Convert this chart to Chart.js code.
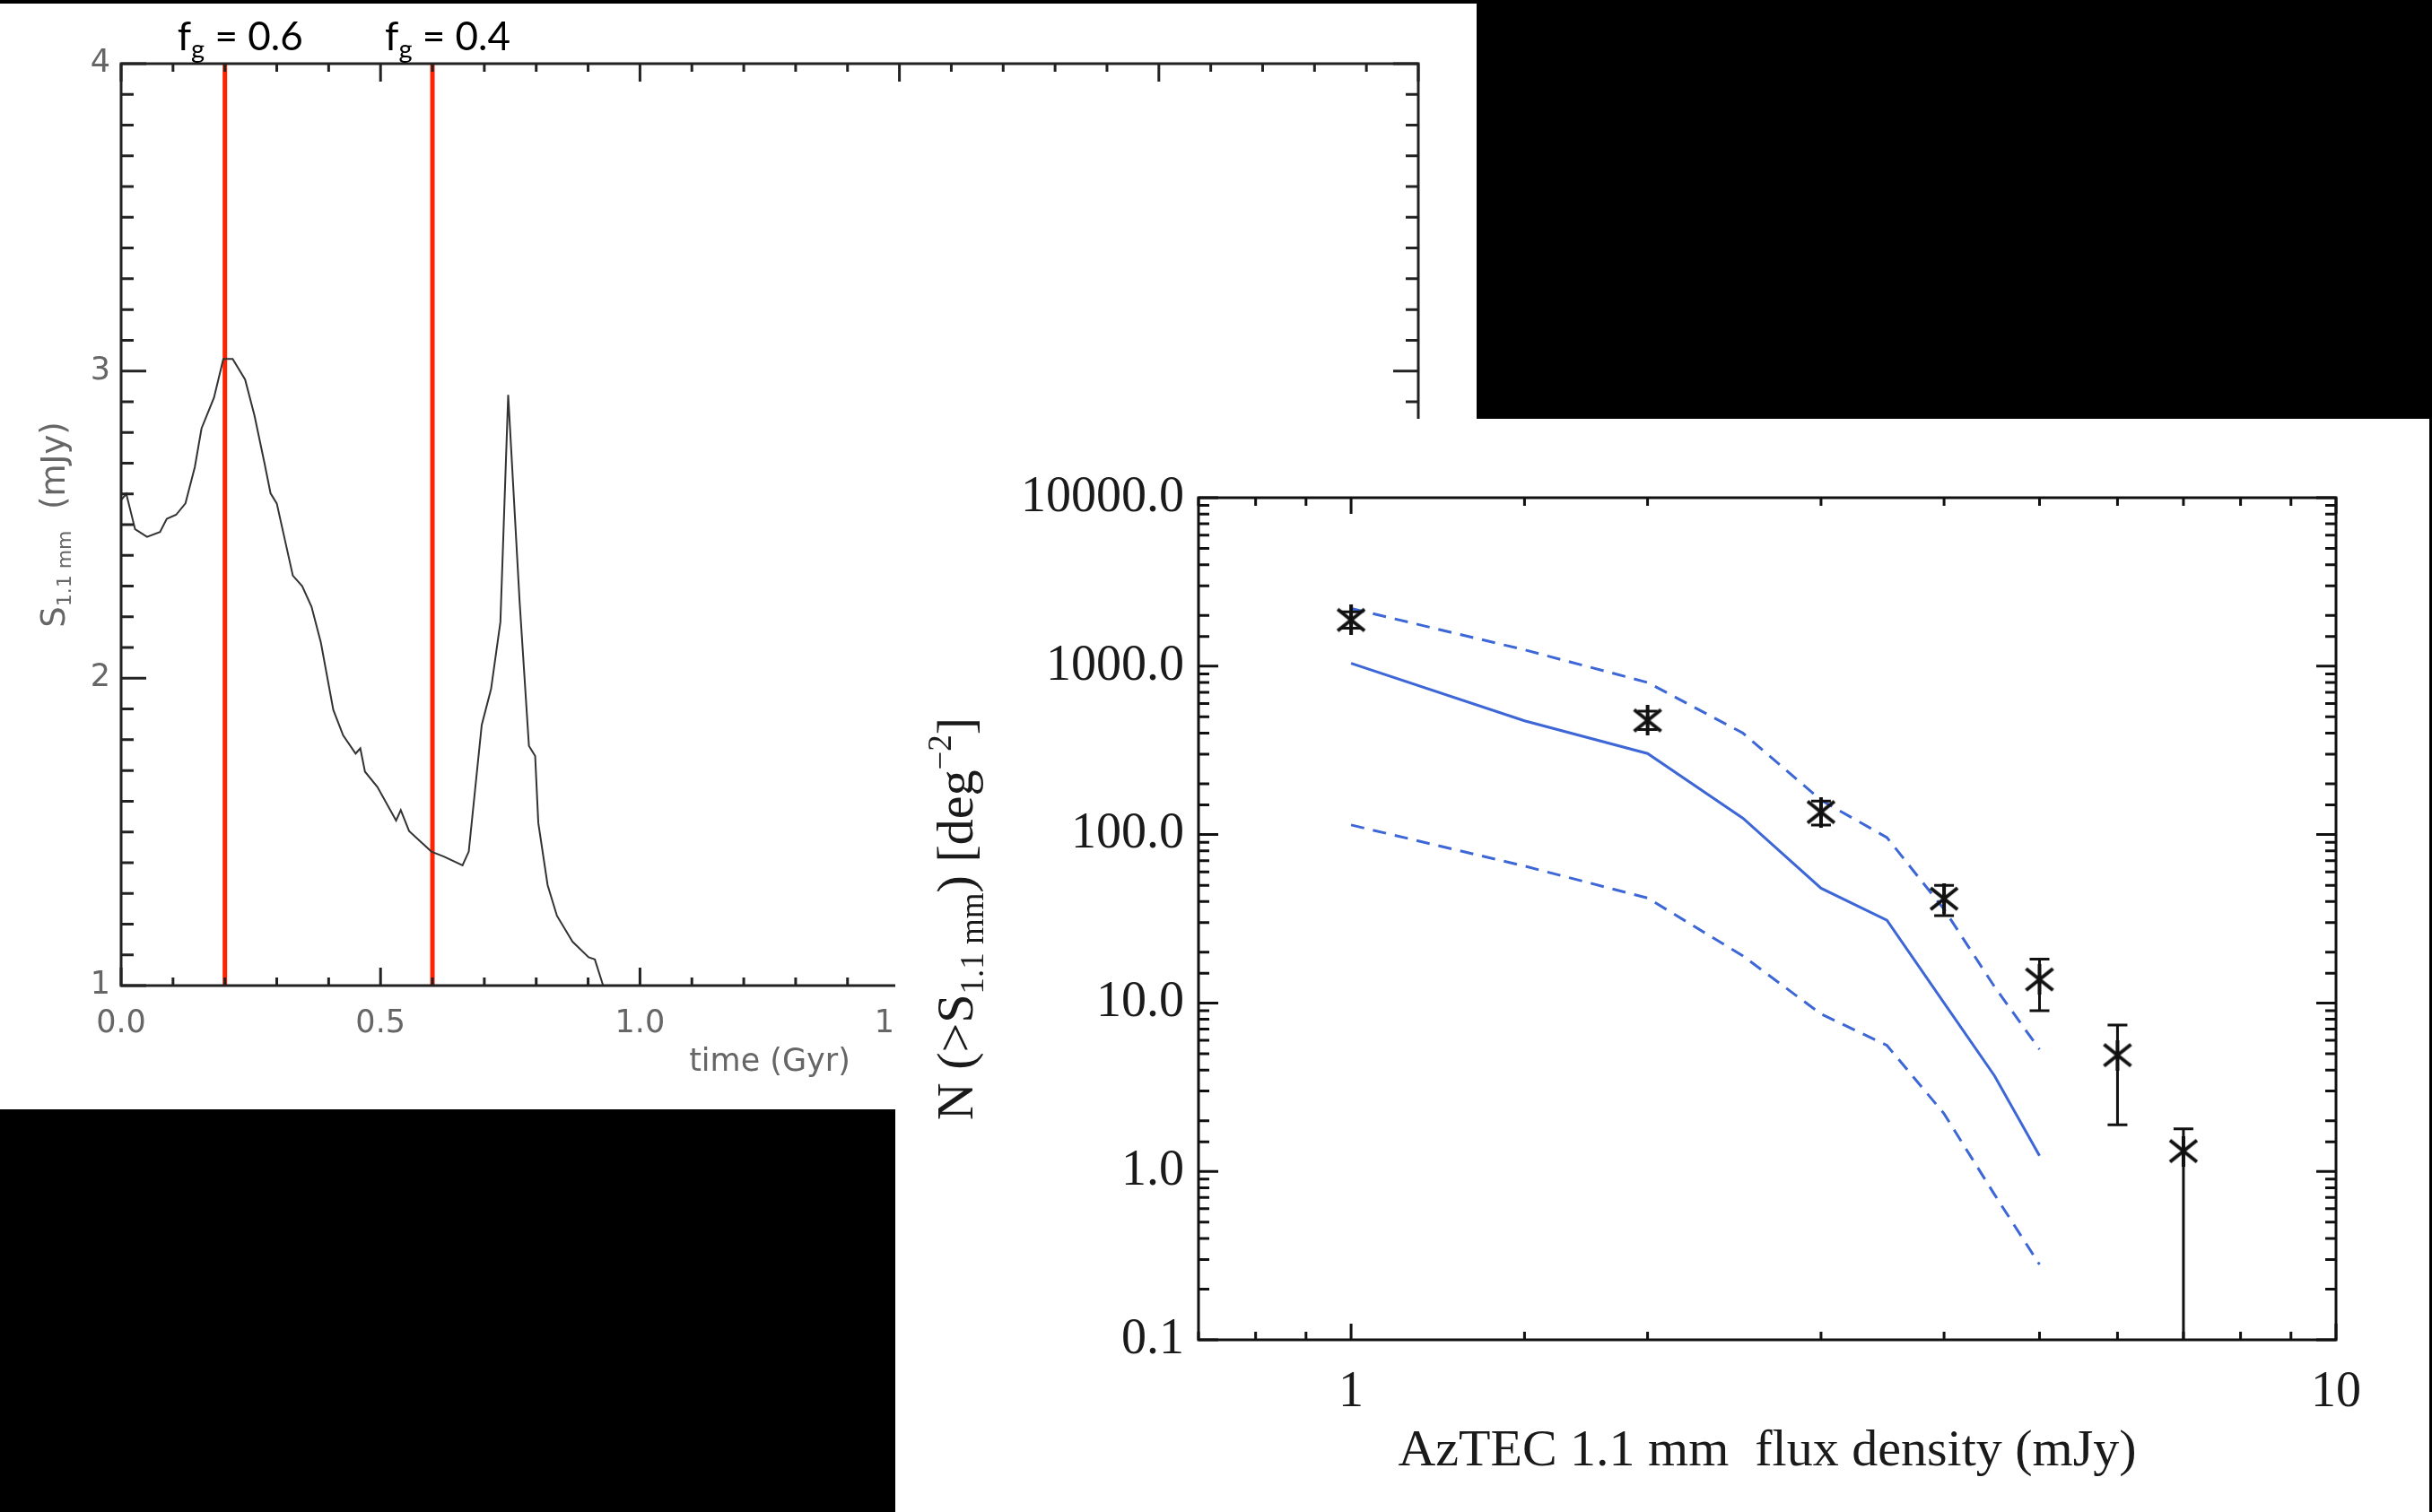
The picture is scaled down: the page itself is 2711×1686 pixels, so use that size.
<!DOCTYPE html>
<html>
<head>
<meta charset="utf-8">
<script src="https://cdn.jsdelivr.net/npm/chart.js@4.4.1/dist/chart.umd.min.js"></script>
<style>
  html, body { margin: 0; padding: 0; background: #000; }
  body { width: 2711px; height: 1686px; overflow: hidden; position: relative; }
  .panel { position: absolute; background: #fff; }
  #left { left: 0; top: 4px; width: 1646px; height: 1233px; }
  #right { left: 998px; top: 467px; width: 1710px; height: 1219px; }
</style>
</head>
<body>
<div class="panel" id="left"><canvas id="lightCurve"></canvas></div>
<div class="panel" id="right"><canvas id="counts"></canvas></div>
<script>
// left panel: 1.1 mm flux vs time
const timeGyr = [0.0, 0.01, 0.027, 0.05, 0.075, 0.088, 0.106, 0.124, 0.142, 0.155, 0.179, 0.197, 0.215, 0.239, 0.257,
  0.276, 0.288, 0.300, 0.331, 0.349, 0.367, 0.385, 0.409, 0.428, 0.452, 0.461, 0.470, 0.494, 0.530, 0.539, 0.555,
  0.598, 0.622, 0.658, 0.670, 0.695, 0.713, 0.731, 0.746, 0.768, 0.786, 0.798, 0.804, 0.822, 0.840, 0.870, 0.901,
  0.913, 0.929];
const flux11 = [2.58, 2.60, 2.485, 2.46, 2.476, 2.519, 2.532, 2.569, 2.687, 2.813, 2.913, 3.039, 3.039, 2.972, 2.855,
  2.703, 2.602, 2.569, 2.334, 2.300, 2.233, 2.116, 1.897, 1.814, 1.755, 1.772, 1.696, 1.646, 1.537, 1.571, 1.503,
  1.436, 1.420, 1.391, 1.436, 1.848, 1.965, 2.183, 2.922, 2.25, 1.78, 1.747, 1.53, 1.327, 1.227, 1.143, 1.092,
  1.085, 1.0];
const fgTimes = [0.2, 0.6];
const fgValues = ['0.6', '0.4'];

// right panel: AzTEC number counts
const obsFlux = [1, 2, 3, 4, 5, 6, 7];
const obsN = [1880, 476, 136, 41.6, 13.8, 4.9, 1.32];
const obsHigh = [2100, 540, 158, 50, 18.2, 7.4, 1.79];
const obsLow = [1680, 420, 114, 33, 9.0, 1.89, 0.01];
const modelFlux = [1, 1.5, 2, 2.5, 3, 3.5, 4, 4.5, 5];
const modelN = [1040, 474, 303, 125, 48, 31, 10, 3.7, 1.24];
const modelHigh = [2200, 1250, 800, 400, 160, 96, 36, 12.5, 5.3];
const modelLow = [114, 65, 42, 19, 8.6, 5.6, 2.2, 0.73, 0.28];

const RED = '#ff2400';
const BLUE = '#3d66d6';

const isMult = (v, s) => Math.abs(v / s - Math.round(v / s)) < 1e-6;
const isDecade = v => isMult(Math.log10(v), 1);

// box around the plot with inward ticks on all four sides
function frameTicks(o) {
  return {
    id: 'frameTicks',
    afterDraw(chart) {
      const {ctx, chartArea: a, scales: {x, y}} = chart;
      ctx.save();
      ctx.strokeStyle = o.color;
      ctx.lineWidth = o.width;
      ctx.beginPath();
      x.ticks.forEach(t => {
        const px = x.getPixelForValue(t.value);
        const len = o.xMajor(t.value) ? o.xLen[0] : o.xLen[1];
        ctx.moveTo(px, a.bottom); ctx.lineTo(px, a.bottom - len);
        ctx.moveTo(px, a.top); ctx.lineTo(px, a.top + len);
      });
      y.ticks.forEach(t => {
        const py = y.getPixelForValue(t.value);
        const len = o.yMajor(t.value) ? o.yLen[0] : o.yLen[1];
        ctx.moveTo(a.left, py); ctx.lineTo(a.left + len, py);
        ctx.moveTo(a.right, py); ctx.lineTo(a.right - len, py);
      });
      ctx.stroke();
      ctx.strokeRect(a.left, a.top, a.right - a.left, a.bottom - a.top);
      ctx.restore();
    }
  };
}

// text made of pieces: [text, size, dy]
function richWidth(ctx, parts, family) {
  let w = 0;
  parts.forEach(p => { ctx.font = p[1] + 'px ' + family; w += ctx.measureText(p[0]).width; });
  return w;
}
function fillRich(ctx, parts, family, x, y) {
  let cx = x;
  parts.forEach(p => {
    ctx.font = p[1] + 'px ' + family;
    ctx.fillText(p[0], cx, y + p[2]);
    cx += ctx.measureText(p[0]).width;
  });
}
function centeredRich(ctx, parts, family, cx, y) {
  fillRich(ctx, parts, family, cx - richWidth(ctx, parts, family) / 2, y);
}
function rotatedRich(ctx, parts, family, bx, cy) {
  ctx.save();
  ctx.translate(bx, cy);
  ctx.rotate(-Math.PI / 2);
  centeredRich(ctx, parts, family, 0, 0);
  ctx.restore();
}

const leftTitles = {
  id: 'leftTitles',
  afterDraw(chart) {
    const {ctx, chartArea: a, scales: {x}} = chart;
    ctx.save();
    ctx.textAlign = 'left';
    ctx.textBaseline = 'alphabetic';
    ctx.fillStyle = '#000';
    fgTimes.forEach((t, i) => {
      centeredRich(ctx, [['f', 44, 0], ['g', 29, 9], [' = ' + fgValues[i], 44, 0]], 'Lato', x.getPixelForValue(t) + 17, 52);
    });
    ctx.fillStyle = '#666';
    centeredRich(ctx, [['time (Gyr)', 35, 0]], '"DejaVu Sans"', (a.left + a.right) / 2, 1190);
    rotatedRich(ctx, [['S', 37, 0], ['1.1 mm', 22, 7], ['  (mJy)', 37, 0]], '"DejaVu Sans"', 72, (a.top + a.bottom) / 2);
    ctx.restore();
  }
};

const rightTitles = {
  id: 'rightTitles',
  afterDraw(chart) {
    const {ctx, chartArea: a} = chart;
    ctx.save();
    ctx.textAlign = 'left';
    ctx.textBaseline = 'alphabetic';
    ctx.fillStyle = '#1a1a1a';
    centeredRich(ctx, [['AzTEC 1.1 mm  flux density (mJy)', 58, 0]], '"Liberation Serif"', (a.left + a.right) / 2, 1167);
    rotatedRich(ctx, [['N (>S', 58, 0], ['1.1 mm', 37, 12], [') [deg', 58, 0], ['\u22122', 37, -24], [']', 58, 0]],
      '"Liberation Serif"', 86, (a.top + a.bottom) / 2);
    ctx.restore();
  }
};

const errorBars = {
  id: 'errorBars',
  afterDatasetsDraw(chart) {
    const {ctx, chartArea: a, scales: {x, y}} = chart;
    ctx.save();
    ctx.beginPath();
    ctx.rect(a.left, a.top, a.right - a.left, a.bottom - a.top);
    ctx.clip();
    ctx.strokeStyle = '#111';
    ctx.lineWidth = 3;
    ctx.beginPath();
    obsFlux.forEach((f, i) => {
      const px = x.getPixelForValue(f);
      const hi = y.getPixelForValue(obsHigh[i]);
      const lo = y.getPixelForValue(obsLow[i]);
      ctx.moveTo(px, hi); ctx.lineTo(px, Math.min(lo, a.bottom));
      ctx.moveTo(px - 11, hi); ctx.lineTo(px + 11, hi);
      if (lo < a.bottom) { ctx.moveTo(px - 11, lo); ctx.lineTo(px + 11, lo); }
    });
    ctx.stroke();
    ctx.restore();
  }
};

function makeStar(size, lw) {
  const c = document.createElement('canvas');
  c.width = c.height = size;
  const g = c.getContext('2d');
  const h = size / 2;
  g.strokeStyle = '#111';
  g.lineWidth = lw;
  g.beginPath();
  g.moveTo(h, 0); g.lineTo(h, size);
  g.moveTo(2, h - 12); g.lineTo(size - 2, h + 12);
  g.moveTo(2, h + 12); g.lineTo(size - 2, h - 12);
  g.stroke();
  return c;
}

const leftFont = { family: '"DejaVu Sans"', size: 35 };

new Chart(document.getElementById('lightCurve').getContext('2d'), {
  type: 'scatter',
  data: {
    datasets: [{
      data: timeGyr.map((t, i) => ({ x: t, y: flux11[i] })),
      showLine: true,
      borderColor: '#333',
      borderWidth: 2,
      pointRadius: 0,
      tension: 0
    }].concat(fgTimes.map(t => ({
      data: [{ x: t, y: 1 }, { x: t, y: 4 }],
      showLine: true,
      borderColor: RED,
      borderWidth: 5,
      pointRadius: 0
    })))
  },
  options: {
    responsive: true,
    maintainAspectRatio: false,
    animation: false,
    devicePixelRatio: 1,
    layout: { padding: { top: 67, right: 65, left: 0, bottom: 0 } },
    plugins: { legend: { display: false }, tooltip: { enabled: false } },
    scales: {
      x: {
        type: 'linear', min: 0, max: 2.5,
        grid: { display: false, drawTicks: false },
        border: { display: false },
        ticks: {
          stepSize: 0.1, autoSkip: false, maxRotation: 0, minRotation: 0,
          padding: 22, color: '#666', font: leftFont,
          callback: v => isMult(v, 0.5) ? v.toFixed(1) : ''
        },
        afterFit: s => { s.height = 138; }
      },
      y: {
        type: 'linear', min: 1, max: 4,
        grid: { display: false, drawTicks: false },
        border: { display: false },
        ticks: {
          stepSize: 0.1, autoSkip: false,
          padding: 12, color: '#666', font: leftFont,
          callback: v => isMult(v, 1) ? String(Math.round(v)) : ''
        },
        afterFit: s => { s.width = 135; }
      }
    }
  },
  plugins: [
    frameTicks({ color: '#222', width: 3, xLen: [20, 9], yLen: [28, 14],
      xMajor: v => isMult(v, 0.5), yMajor: v => isMult(v, 1) }),
    leftTitles
  ]
});

const rightFont = { family: '"Liberation Serif"', size: 56 };

new Chart(document.getElementById('counts').getContext('2d'), {
  type: 'scatter',
  data: {
    datasets: [{
      data: obsFlux.map((f, i) => ({ x: f, y: obsN[i] })),
      pointStyle: makeStar(34, 4),
      pointRadius: 17
    }, {
      data: modelFlux.map((f, i) => ({ x: f, y: modelN[i] })),
      showLine: true, borderColor: BLUE, borderWidth: 3, pointRadius: 0
    }, {
      data: modelFlux.map((f, i) => ({ x: f, y: modelHigh[i] })),
      showLine: true, borderColor: BLUE, borderWidth: 3, borderDash: [15, 10], pointRadius: 0
    }, {
      data: modelFlux.map((f, i) => ({ x: f, y: modelLow[i] })),
      showLine: true, borderColor: BLUE, borderWidth: 3, borderDash: [15, 10], pointRadius: 0
    }]
  },
  options: {
    responsive: true,
    maintainAspectRatio: false,
    animation: false,
    devicePixelRatio: 1,
    layout: { padding: { top: 88, right: 104, left: 0, bottom: 0 } },
    plugins: { legend: { display: false }, tooltip: { enabled: false } },
    scales: {
      x: {
        type: 'logarithmic', min: 0.7, max: 10,
        grid: { display: false, drawTicks: false },
        border: { display: false },
        ticks: {
          autoSkip: false, maxRotation: 0, minRotation: 0,
          padding: 26, color: '#1a1a1a', font: rightFont,
          callback: v => isDecade(v) ? String(Math.round(v)) : ''
        },
        afterFit: s => { s.height = 192; }
      },
      y: {
        type: 'logarithmic', min: 0.1, max: 10000,
        grid: { display: false, drawTicks: false },
        border: { display: false },
        ticks: {
          autoSkip: false,
          padding: 16, color: '#1a1a1a', font: rightFont,
          callback: v => isDecade(v) ? v.toFixed(1) : ''
        },
        afterFit: s => { s.width = 338; }
      }
    }
  },
  plugins: [
    errorBars,
    frameTicks({ color: '#111', width: 3, xLen: [18, 9], yLen: [22, 12],
      xMajor: v => isDecade(v), yMajor: v => isDecade(v) }),
    rightTitles
  ]
});
</script>
</body>
</html>
